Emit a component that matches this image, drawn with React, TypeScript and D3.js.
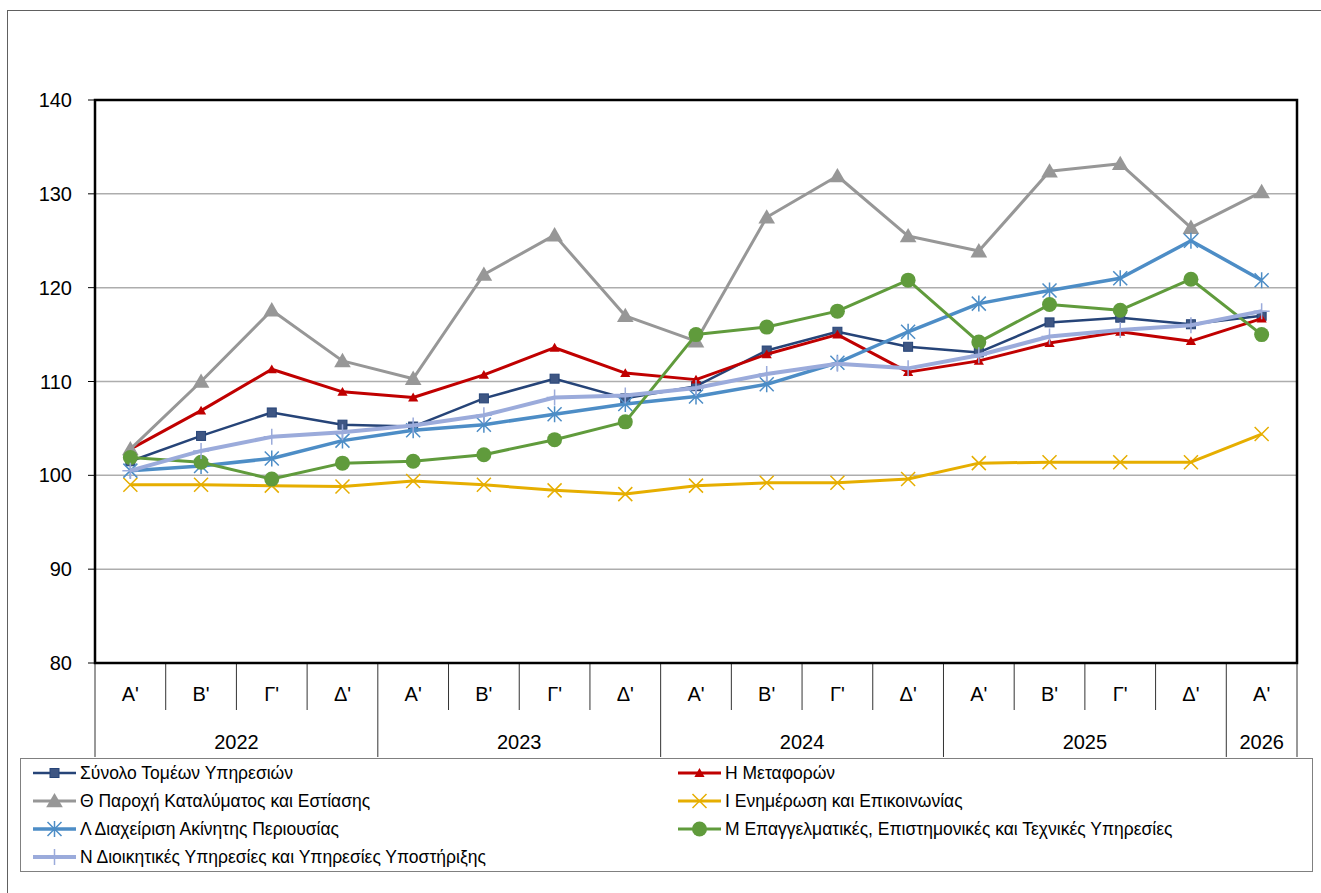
import React, { useEffect, useRef } from 'react';
import * as d3 from 'd3';

const quarters = ["Α'", "Β'", "Γ'", "Δ'", "Α'", "Β'", "Γ'", "Δ'", "Α'", "Β'", "Γ'", "Δ'", "Α'", "Β'", "Γ'", "Δ'", "Α'"];
const years = ['2022', '2023', '2024', '2025', '2026'];
const yearSpans = [4, 4, 4, 4, 1];
const yTicks = [80, 90, 100, 110, 120, 130, 140];

const synolo = [101.5, 104.2, 106.7, 105.4, 105.2, 108.2, 110.3, 108.2, 109.5, 113.3, 115.3, 113.7, 113.1, 116.3, 116.8, 116.1, 117.0];
const metafores = [102.8, 106.9, 111.3, 108.9, 108.3, 110.7, 113.6, 110.9, 110.2, 112.9, 115.0, 111.0, 112.2, 114.1, 115.3, 114.3, 116.7];
const paroxi = [102.8, 110.0, 117.6, 112.2, 110.3, 121.4, 125.6, 117.0, 114.3, 127.5, 131.9, 125.5, 123.9, 132.4, 133.2, 126.4, 130.2];
const enimerosi = [99.0, 99.0, 98.9, 98.8, 99.4, 99.0, 98.4, 98.0, 98.9, 99.2, 99.2, 99.6, 101.3, 101.4, 101.4, 101.4, 104.4];
const akinita = [100.5, 101.0, 101.8, 103.7, 104.8, 105.4, 106.5, 107.6, 108.4, 109.7, 112.0, 115.3, 118.3, 119.7, 121.0, 125.0, 120.8];
const epaggelmatikes = [101.9, 101.4, 99.6, 101.3, 101.5, 102.2, 103.8, 105.7, 115.0, 115.8, 117.5, 120.8, 114.2, 118.2, 117.6, 120.9, 115.0];
const dioikitikes = [100.5, 102.6, 104.1, 104.6, 105.3, 106.4, 108.3, 108.5, 109.3, 110.8, 111.9, 111.4, 112.8, 114.8, 115.5, 116.0, 117.5];

type Marker = 'square' | 'smallTri' | 'bigTri' | 'x' | 'star' | 'circle' | 'plus';

const series: { name: string; values: number[]; color: string; width: number; marker: Marker }[] = [
    { name: 'Σύνολο Τομέων Υπηρεσιών', values: synolo, color: '#264478', width: 2.5, marker: 'square' },
    { name: 'Η Μεταφορών', values: metafores, color: '#C00000', width: 3, marker: 'smallTri' },
    { name: 'Θ Παροχή Καταλύματος και Εστίασης', values: paroxi, color: '#979797', width: 3, marker: 'bigTri' },
    { name: 'Ι Ενημέρωση και Επικοινωνίας', values: enimerosi, color: '#E6AE00', width: 3, marker: 'x' },
    { name: 'Λ Διαχείριση Ακίνητης Περιουσίας', values: akinita, color: '#4D8DC6', width: 3.5, marker: 'star' },
    { name: 'Μ Επαγγελματικές, Επιστημονικές και Τεχνικές Υπηρεσίες', values: epaggelmatikes, color: '#609B3C', width: 3, marker: 'circle' },
    { name: 'Ν Διοικητικές Υπηρεσίες και Υπηρεσίες Υποστήριξης', values: dioikitikes, color: '#9BABDB', width: 4, marker: 'plus' },
];

const FONT = '"Liberation Sans", Arial, sans-serif';

function drawMarker(g: d3.Selection<SVGGElement, unknown, null, undefined>, m: Marker, x: number, y: number, color: string) {
    switch (m) {
        case 'square':
            g.append('rect').attr('x', x - 4.5).attr('y', y - 4.5).attr('width', 9).attr('height', 9)
                .attr('fill', '#3E5683').attr('stroke', '#264478').attr('stroke-width', 1);
            break;
        case 'smallTri':
            g.append('path').attr('transform', `translate(${x},${y + 1})`)
                .attr('d', d3.symbol(d3.symbolTriangle, 45)()).attr('fill', color);
            break;
        case 'bigTri':
            g.append('path').attr('transform', `translate(${x},${y + 1.5})`)
                .attr('d', d3.symbol(d3.symbolTriangle, 120)()).attr('fill', color);
            break;
        case 'x':
            g.append('path').attr('d', `M${x - 7},${y - 7}L${x + 7},${y + 7}M${x - 7},${y + 7}L${x + 7},${y - 7}`)
                .attr('stroke', color).attr('stroke-width', 1.5).attr('fill', 'none');
            break;
        case 'star':
            g.append('path').attr('d', `M${x - 7},${y - 7}L${x + 7},${y + 7}M${x - 7},${y + 7}L${x + 7},${y - 7}M${x},${y - 8}L${x},${y + 8}`)
                .attr('stroke', color).attr('stroke-width', 1.5).attr('fill', 'none');
            break;
        case 'circle':
            g.append('circle').attr('cx', x).attr('cy', y).attr('r', 7.5).attr('fill', color);
            break;
        case 'plus':
            g.append('path').attr('d', `M${x - 8},${y}L${x + 8},${y}M${x},${y - 8}L${x},${y + 8}`)
                .attr('stroke', color).attr('stroke-width', 1.5).attr('fill', 'none');
            break;
    }
}

const ServicesChart: React.FC = () => {
    const svgRef = useRef<SVGSVGElement>(null);
    const width = 1321;
    const height = 893;

    useEffect(() => {
        if (!svgRef.current) return;
        document.body.style.margin = '0';
        const svg = d3.select(svgRef.current);
        svg.selectAll('*').remove();

        const plot = { left: 95, top: 100, right: 1297, bottom: 663 };

        const x = d3.scaleBand<number>()
            .domain(d3.range(quarters.length))
            .range([plot.left, plot.right]);
        const y = d3.scaleLinear().domain([80, 140]).range([plot.bottom, plot.top]);

        // chart border
        svg.append('rect')
            .attr('x', 7.5).attr('y', 10.5).attr('width', 1340).attr('height', 900)
            .attr('fill', 'white').attr('stroke', '#606060').attr('stroke-width', 1);

        // gridlines
        svg.append('g')
            .selectAll('line')
            .data(yTicks.filter(t => t > 80 && t < 140))
            .join('line')
            .attr('x1', plot.left).attr('x2', plot.right)
            .attr('y1', d => y(d)).attr('y2', d => y(d))
            .attr('stroke', '#ADADAD').attr('stroke-width', 1.5);

        // y axis ticks + labels
        const yAxis = svg.append('g');
        yTicks.forEach(t => {
            yAxis.append('line').attr('x1', 88).attr('x2', plot.left).attr('y1', y(t)).attr('y2', y(t))
                .attr('stroke', '#000').attr('stroke-width', 1);
            yAxis.append('text').attr('x', 72).attr('y', y(t)).attr('dy', '0.35em')
                .attr('text-anchor', 'end').style('font-family', FONT).style('font-size', '20px')
                .attr('fill', '#000').text(t);
        });

        // category axis: quarter row and year row
        const catG = svg.append('g');
        const bw = x.bandwidth();
        let idx = 0;
        const yearBounds: number[] = [0];
        yearSpans.forEach(s => { idx += s; yearBounds.push(idx); });
        const boundaryX = (i: number) => plot.left + i * bw;
        for (let i = 0; i <= quarters.length; i++) {
            const isYear = yearBounds.includes(i);
            catG.append('line')
                .attr('x1', boundaryX(i)).attr('x2', boundaryX(i))
                .attr('y1', plot.bottom).attr('y2', isYear ? 757 : 710)
                .attr('stroke', '#333').attr('stroke-width', 1);
        }
        quarters.forEach((q, i) => {
            catG.append('text')
                .attr('x', (x(i) as number) + bw / 2).attr('y', 694).attr('dy', '0.35em')
                .attr('text-anchor', 'middle').style('font-family', FONT).style('font-size', '20px')
                .text(q);
        });
        years.forEach((yr, i) => {
            const cx = (boundaryX(yearBounds[i]) + boundaryX(yearBounds[i + 1])) / 2;
            catG.append('text')
                .attr('x', cx).attr('y', 742).attr('dy', '0.35em')
                .attr('text-anchor', 'middle').style('font-family', FONT).style('font-size', '20px')
                .text(yr);
        });

        // series
        const seriesG = svg.append('g');
        series.forEach(s => {
            const line = d3.line<number>()
                .x((_, i) => (x(i) as number) + bw / 2)
                .y(d => y(d));
            const g = seriesG.append('g');
            g.append('path').datum(s.values)
                .attr('fill', 'none').attr('stroke', s.color).attr('stroke-width', s.width)
                .attr('stroke-linejoin', 'round').attr('d', line);
            s.values.forEach((v, i) => drawMarker(g, s.marker, (x(i) as number) + bw / 2, y(v), s.color));
        });

        // plot area frame
        svg.append('rect')
            .attr('x', plot.left).attr('y', plot.top)
            .attr('width', plot.right - plot.left).attr('height', plot.bottom - plot.top)
            .attr('fill', 'none').attr('stroke', '#000').attr('stroke-width', 2.5);

        // legend
        const legend = svg.append('g');
        legend.append('rect')
            .attr('x', 20.5).attr('y', 758.5).attr('width', 1292).attr('height', 113)
            .attr('fill', 'white').attr('stroke', '#808080').attr('stroke-width', 1);
        const colX = [33, 678];
        const rowY = [773, 801, 829, 857];
        series.forEach((s, i) => {
            const lx = colX[i % 2];
            const ly = rowY[Math.floor(i / 2)];
            const item = legend.append('g');
            item.append('line').attr('x1', lx).attr('x2', lx + 43).attr('y1', ly).attr('y2', ly)
                .attr('stroke', s.color).attr('stroke-width', s.width);
            drawMarker(item, s.marker, lx + 21.5, ly, s.color);
            item.append('text').attr('x', lx + 47).attr('y', ly).attr('dy', '0.35em')
                .style('font-family', FONT).style('font-size', '17.5px').attr('fill', '#000')
                .text(s.name);
        });
    }, []);

    return <svg ref={svgRef} width={width} height={height} style={{ display: 'block' }} />;
};

export default function App() {
    return <ServicesChart />;
}
